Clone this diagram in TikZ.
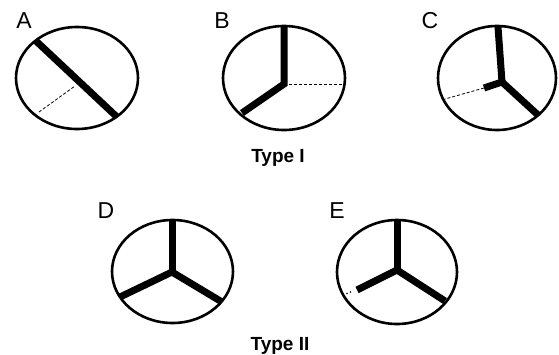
\documentclass[tikz,border=0pt]{standalone}
\usepackage{fontspec}
\setmainfont{Liberation Sans}
\begin{document}
\begin{tikzpicture}[x=1pt,y=-1pt,
  rim/.style={line width=2.6pt},
  spoke/.style={line width=7pt, line cap=butt, line join=miter},
  dashline/.style={line width=0.8pt, dash pattern=on 3pt off 2pt},
  letter/.style={anchor=base, inner sep=0pt, font=\fontsize{23}{23}\selectfont},
  typelabel/.style={anchor=base, inner sep=0pt, font=\fontsize{19}{19}\selectfont\bfseries}]
\useasboundingbox (0,0) rectangle (559,354);
% A
\node[letter] (lA) at (24,28) {A};
\draw[rim] (77,78) ellipse [x radius=61, y radius=51];
\coordinate (a1) at (36,41);
\coordinate (a2) at (117,117);
\coordinate (a3) at (39,112);
\coordinate (a4) at (75,86);
\draw[spoke] (a1) -- (a2);
\draw[dashline] (a3) -- (a4);
% B
\node[letter] (lB) at (222,28) {B};
\draw[rim] (284,78) ellipse [x radius=61, y radius=52];
\coordinate (b0) at (284,26);
\coordinate (bc) at (284,84);
\coordinate (b1) at (242,113);
\coordinate (b2) at (345,84);
\draw[spoke] (b0) -- (bc) -- (b1);
\draw[dashline] (bc) -- (b2);
\node[typelabel] (t1) at (278,162) {Type I};
% C
\node[letter] (lC) at (430,28) {C};
\draw[rim] (497,78) ellipse [x radius=59, y radius=52];
\coordinate (c0) at (498,27);
\coordinate (cc) at (502,82);
\coordinate (c1) at (538,115);
\coordinate (c2) at (484,88);
\coordinate (c3) at (445,99);
\draw[spoke] (c0) -- (cc);
\draw[spoke] (cc) -- (c1);
\draw[spoke] (cc) -- (c2);
\draw[dashline] (c2) -- (c3);
% D
\node[letter] (lD) at (106,218) {D};
\draw[rim] (172.5,271.5) ellipse [x radius=60.5, y radius=51.5];
\coordinate (d0) at (172,220);
\coordinate (dc) at (172,272);
\coordinate (d1) at (120,297);
\coordinate (d2) at (222,302);
\draw[spoke] (d0) -- (dc);
\draw[spoke] (dc) -- (d1);
\draw[spoke] (dc) -- (d2);
% E
\node[letter] (lE) at (337,218) {E};
\draw[rim] (397,272) ellipse [x radius=60, y radius=52];
\coordinate (e0) at (397,220);
\coordinate (ec) at (397,270);
\coordinate (e1) at (445,301);
\coordinate (e2) at (357,290);
\draw[spoke] (e0) -- (ec);
\draw[spoke] (ec) -- (e1);
\draw[spoke] (ec) -- (e2);
\fill (350.5,292) circle (0.9);
\fill (347,293.5) circle (0.9);
\node[typelabel] (t2) at (280,350) {Type II};
\end{tikzpicture}
\end{document}
